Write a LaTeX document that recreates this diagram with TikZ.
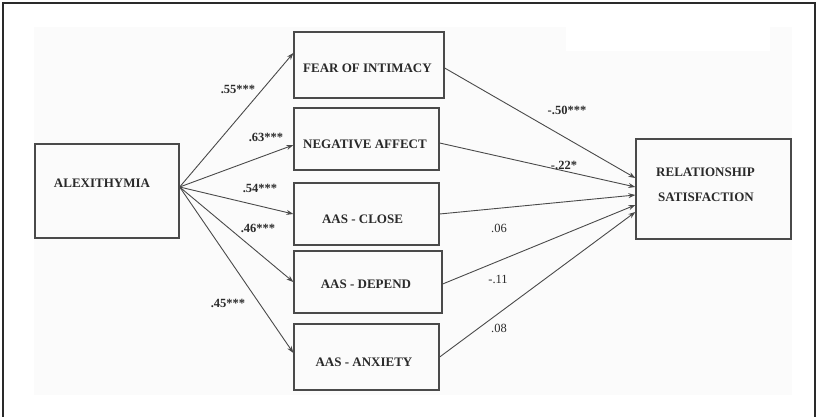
\documentclass[tikz,border=0pt]{standalone}
\usepackage{fontspec}
\setmainfont{Liberation Serif}
\usetikzlibrary{arrows.meta}
\definecolor{ink}{HTML}{2A2A2A}
\definecolor{edge}{HTML}{4A4A4A}
\definecolor{paper}{HTML}{FBFBFB}
\tikzset{
  boxnode/.style={draw=edge, line width=1.3pt, inner sep=0pt},
  boxtxt/.style={font=\fontsize{13}{15}\selectfont\bfseries, text=ink, inner sep=0pt, text height=8.6pt, text depth=0pt},
  coef/.style={font=\fontsize{12.5}{14}\selectfont\bfseries, text=ink, inner sep=0pt, text height=8.4pt, text depth=0pt},
  coefn/.style={font=\fontsize{12.5}{14}\selectfont, text=ink, inner sep=0pt, text height=8.4pt, text depth=0pt},
  path/.style={draw=edge, line width=0.9pt, -{Stealth[length=7pt,width=5pt]}},
}
\begin{document}
\begin{tikzpicture}[x=1pt,y=-1pt]
\useasboundingbox (0,0) rectangle (819,417);
\fill[white] (0,0) rectangle (819,417);
\fill[paper] (34,27) rectangle (792,395);
\fill[white] (566,27) rectangle (770,51);
\draw[ink, line width=1.4pt] (3,420) -- (3,3) -- (815,3) -- (815,420);

% boxes
\node[boxnode, minimum width=144pt, minimum height=94pt] (alex) at (107,191) {};
\node[boxnode, minimum width=150pt, minimum height=66pt] (fear) at (369,65) {};
\node[boxnode, minimum width=145pt, minimum height=62pt] (neg) at (366.5,139) {};
\node[boxnode, minimum width=145pt, minimum height=62pt] (close) at (366.5,214) {};
\node[boxnode, minimum width=148pt, minimum height=62pt] (depend) at (368,282) {};
\node[boxnode, minimum width=145pt, minimum height=66pt] (anx) at (366.5,357) {};
\node[boxnode, minimum width=155pt, minimum height=100pt] (rs) at (713.5,189) {};

% box texts
\node[boxtxt] (alexT) at (102,183) {ALEXITHYMIA};
\node[boxtxt] (fearT) at (367.5,68) {FEAR OF INTIMACY};
\node[boxtxt] (negT) at (365,144) {NEGATIVE AFFECT};
\node[boxtxt] (closeT) at (362.5,219) {AAS - CLOSE};
\node[boxtxt] (dependT) at (366,284) {AAS - DEPEND};
\node[boxtxt] (anxT) at (364,362) {AAS - ANXIETY};
\node[boxtxt, anchor=west] (rsT1) at (656,172) {RELATIONSHIP};
\node[boxtxt, anchor=west] (rsT2) at (658,197) {SATISFACTION};

% paths from alexithymia
\path[path] ([yshift=4pt]alex.east) -- ([yshift=12pt]fear.west);
\path[path] ([yshift=4pt]alex.east) -- ([yshift=-6pt]neg.west);
\path[path] ([yshift=4pt]alex.east) -- (close.west);
\path[path] ([yshift=4pt]alex.east) -- (depend.west);
\path[path] ([yshift=4pt]alex.east) -- ([yshift=4pt]anx.west);

% paths to relationship satisfaction
\path[path] ([yshift=-3pt]fear.east) -- ([yshift=11pt]rs.west);
\path[path] ([yshift=-4pt]neg.east) -- ([yshift=2pt]rs.west);
\path[path] (close.east) -- ([yshift=-6pt]rs.west);
\path[path] ([yshift=-2pt]depend.east) -- ([yshift=-16pt]rs.west);
\path[path] (anx.east) -- ([yshift=-23pt]rs.west);

% coefficients
\node[coef] (c1) at (238,89) {.55***};
\node[coef] (c2) at (266,137) {.63***};
\node[coef] (c3) at (260,188) {.54***};
\node[coef] (c4) at (258,228) {.46***};
\node[coef] (c5) at (228,303) {.45***};
\node[coef] (c6) at (567,110) {-.50***};
\node[coef] (c7) at (564,165) {-.22*};
\node[coefn] (c8) at (499,228) {.06};
\node[coefn] (c9) at (498,279) {-.11};
\node[coefn] (c10) at (499,328) {.08};
\end{tikzpicture}
\end{document}
